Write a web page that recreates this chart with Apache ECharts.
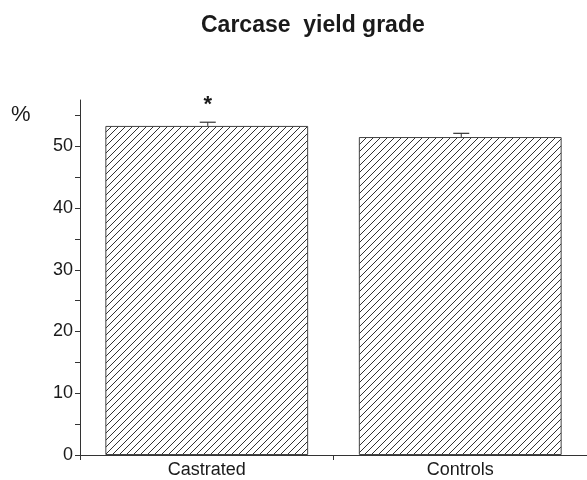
<!DOCTYPE html>
<html>
<head>
    <meta charset="utf-8">
    <script src="https://cdn.jsdelivr.net/npm/echarts@6/dist/echarts.min.js"></script>
</head>
<body style="margin:0">
    <div id="main" style="width: 587px;height:480px;"></div>
    <script type="text/javascript">
        // data
        var groups = ['Castrated', 'Controls'];
        var yieldPct = [53.3, 51.5];
        var stdErr = [0.6, 0.6];
        var signif = ['*', ''];
        var yTicks = [0, 5, 10, 15, 20, 25, 30, 35, 40, 45, 50, 55];
        var yLabels = [0, 10, 20, 30, 40, 50];

        // diagonal hatch tile
        var tile = document.createElement('canvas');
        var s = 7;
        tile.width = s;
        tile.height = s;
        var ctx = tile.getContext('2d');
        ctx.fillStyle = '#fff';
        ctx.fillRect(0, 0, s, s);
        ctx.strokeStyle = '#333';
        ctx.lineWidth = 1;
        ctx.beginPath();
        ctx.moveTo(0, s); ctx.lineTo(s, 0);
        ctx.moveTo(-1, 1); ctx.lineTo(1, -1);
        ctx.moveTo(s - 1, s + 1); ctx.lineTo(s + 1, s - 1);
        ctx.stroke();

        var myChart = echarts.init(document.getElementById('main'));
        var font = 'Liberation Sans, Arial, sans-serif';

        myChart.setOption({
            animation: false,
            title: {
                text: 'Carcase  yield grade',
                left: 196,
                top: 9,
                textStyle: { fontFamily: font, fontWeight: 'bold', fontSize: 23, color: '#1a1a1a' }
            },
            graphic: [{
                type: 'text',
                left: 11,
                top: 104,
                style: { text: '%', font: '22px ' + font, fill: '#1a1a1a' }
            }],
            grid: { left: 80, right: 0, top: 100, bottom: 25 },
            xAxis: {
                type: 'category',
                data: groups,
                axisLine: { lineStyle: { color: '#333', width: 1 } },
                axisTick: { show: true, length: 5, lineStyle: { color: '#333' } },
                axisLabel: { fontFamily: font, fontSize: 18, color: '#1a1a1a', margin: 6 }
            },
            yAxis: {
                type: 'value',
                min: 0,
                max: 57.5,
                splitLine: { show: false },
                axisLine: { show: true, lineStyle: { color: '#333', width: 1 } },
                axisTick: { show: true, length: 5, customValues: yTicks, lineStyle: { color: '#333' } },
                axisLabel: { fontFamily: font, fontSize: 18, color: '#1a1a1a', margin: 7, customValues: yLabels }
            },
            series: [
                {
                    type: 'bar',
                    barWidth: '80%',
                    data: yieldPct,
                    itemStyle: {
                        color: { image: tile, repeat: 'repeat' },
                        borderColor: '#444',
                        borderWidth: 1
                    }
                },
                {
                    type: 'custom',
                    data: yieldPct.map(function (v, i) { return [i, v, v + stdErr[i], signif[i]]; }),
                    renderItem: function (params, api) {
                        var base = api.coord([api.value(0), api.value(1)]);
                        var top = api.coord([api.value(0), api.value(2)]);
                        var x = base[0] + 1;
                        var children = [
                            { type: 'line', shape: { x1: x, y1: base[1], x2: x, y2: top[1] }, style: { stroke: '#333', lineWidth: 1 } },
                            { type: 'line', shape: { x1: x - 8, y1: top[1], x2: x + 8, y2: top[1] }, style: { stroke: '#333', lineWidth: 1.2 } }
                        ];
                        var mark = signif[params.dataIndex];
                        if (mark) {
                            children.push({
                                type: 'text',
                                style: { text: mark, x: x, y: top[1] - 6, align: 'center', verticalAlign: 'bottom', font: 'bold 22px ' + font, fill: '#1a1a1a' }
                            });
                        }
                        return { type: 'group', children: children };
                    },
                    z: 5
                }
            ]
        });
    </script>
</body>
</html>
